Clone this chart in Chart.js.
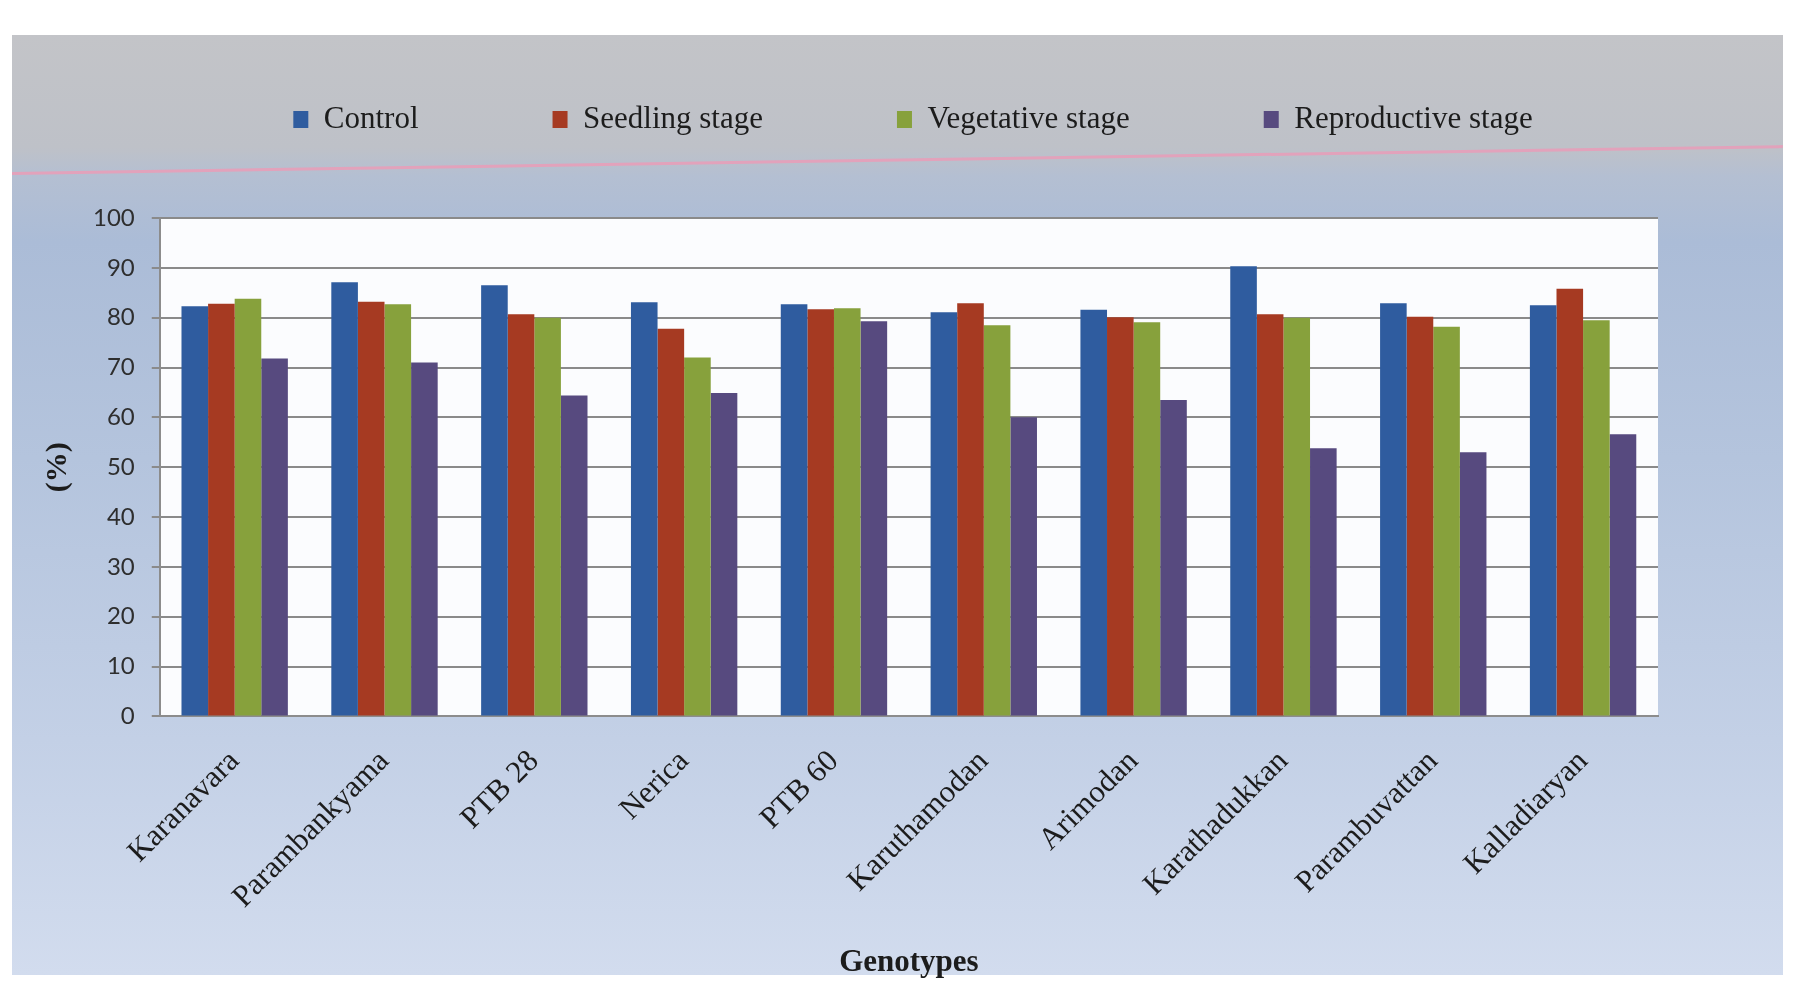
<!DOCTYPE html>
<html>
<head>
<meta charset="utf-8">
<script src="https://cdn.jsdelivr.net/npm/chart.js@4"></script>
<style>
    html, body { margin: 0; padding: 0; background: #fff; }
    #panel {
        position: absolute; left: 12px; top: 35px; width: 1771px; height: 940px;
        background: linear-gradient(180deg, #c3c4c8 0%, #bec1c8 12%, #b4bfd2 15%, #abbcd7 22%, #b4c4dd 45%, #c3d0e6 75%, #d2dcee 100%);
    }
    #pinkline {
        position: absolute; left: 12px; top: 172px; width: 1771px; height: 3px;
        background: #e2a2bb; transform-origin: 0 0; transform: rotate(-0.87deg);
    }
    #wrap { position: absolute; left: 0; top: 0; width: 1793px; height: 996px; }
</style>
</head>
<body>
<div id="panel"></div>
<div id="pinkline"></div>
<div id="wrap"><canvas id="chart"></canvas></div>
<script>
// --- Data ---
const genotypes = ['Karanavara', 'Parambankyama', 'PTB 28', 'Nerica', 'PTB 60',
    'Karuthamodan', 'Arimodan', 'Karathadukkan', 'Parambuvattan', 'Kalladiaryan'];
const control = [82.3, 87.1, 86.5, 83.1, 82.7, 81.1, 81.6, 90.3, 82.9, 82.5];
const seedling = [82.8, 83.2, 80.7, 77.8, 81.7, 82.9, 80.1, 80.7, 80.2, 85.8];
const vegetative = [83.8, 82.7, 80.0, 72.0, 81.9, 78.5, 79.1, 80.0, 78.2, 79.5];
const reproductive = [71.8, 71.0, 64.4, 64.9, 79.3, 60.0, 63.5, 53.8, 53.0, 56.6];
const yTicks = [0, 10, 20, 30, 40, 50, 60, 70, 80, 90, 100];

const SERIF = '"Liberation Serif", "Times New Roman", serif';

// white plot area behind the bars
const plotBg = {
    id: 'plotBg',
    beforeDraw(chart) {
        const { ctx, chartArea: a } = chart;
        ctx.save();
        ctx.fillStyle = '#fbfcfe';
        ctx.fillRect(a.left, a.top, a.right - a.left, a.bottom - a.top);
        ctx.restore();
    }
};

// legend sits higher and a bit right of centre in the original
const legendShift = {
    id: 'legendShift',
    afterLayout(chart) {
        const l = chart.legend;
        l.left += 64; l.right += 64;
        l.top -= 73; l.bottom -= 73;
    }
};

function makeDataset(label, data, color) {
    return {
        label: label,
        data: data,
        backgroundColor: color,
        borderWidth: 0,
        categoryPercentage: 0.71,
        barPercentage: 1.0
    };
}

window.onload = () => {
    const ctx = document.getElementById('chart').getContext('2d');
    new Chart(ctx, {
        type: 'bar',
        data: {
            labels: genotypes,
            datasets: [
                makeDataset('Control', control, '#2f5c9f'),
                makeDataset('Seedling stage', seedling, '#a63a22'),
                makeDataset('Vegetative stage', vegetative, '#87a13c'),
                makeDataset('Reproductive stage', reproductive, '#574a7f')
            ]
        },
        options: {
            responsive: true,
            maintainAspectRatio: false,
            animation: false,
            layout: { padding: { left: 40, right: 135, top: 43, bottom: 14 } },
            plugins: {
                tooltip: { enabled: false },
                legend: {
                    position: 'top',
                    labels: {
                        font: { family: SERIF, size: 31 },
                        color: '#1c1c1c',
                        boxWidth: 15,
                        boxHeight: 17,
                        padding: 134
                    }
                }
            },
            scales: {
                x: {
                    grid: { display: false, drawTicks: false },
                    border: { color: '#8c8c8c', width: 2 },
                    ticks: {
                        font: { family: SERIF, size: 31 },
                        color: '#1c1c1c',
                        minRotation: 45,
                        maxRotation: 45,
                        padding: 27
                    },
                    title: {
                        display: true,
                        text: 'Genotypes',
                        font: { family: SERIF, size: 31, weight: 'bold' },
                        color: '#1c1c1c',
                        padding: { top: 2, bottom: 0 }
                    }
                },
                y: {
                    min: 0,
                    max: 100,
                    afterBuildTicks: axis => { axis.ticks = yTicks.map(v => ({ value: v })); },
                    grid: { color: '#8a8a8a', lineWidth: 2, tickLength: 8 },
                    border: { color: '#8c8c8c', width: 2 },
                    ticks: {
                        font: { family: 'Lato, "Open Sans", sans-serif', size: 24 },
                        color: '#2e2e2e',
                        padding: 17
                    },
                    title: {
                        display: true,
                        text: '(%)',
                        font: { family: SERIF, size: 30, weight: 'bold' },
                        color: '#1c1c1c',
                        padding: { top: 0, bottom: 0 }
                    }
                }
            }
        },
        plugins: [plotBg, legendShift]
    });
};
</script>
</body>
</html>
